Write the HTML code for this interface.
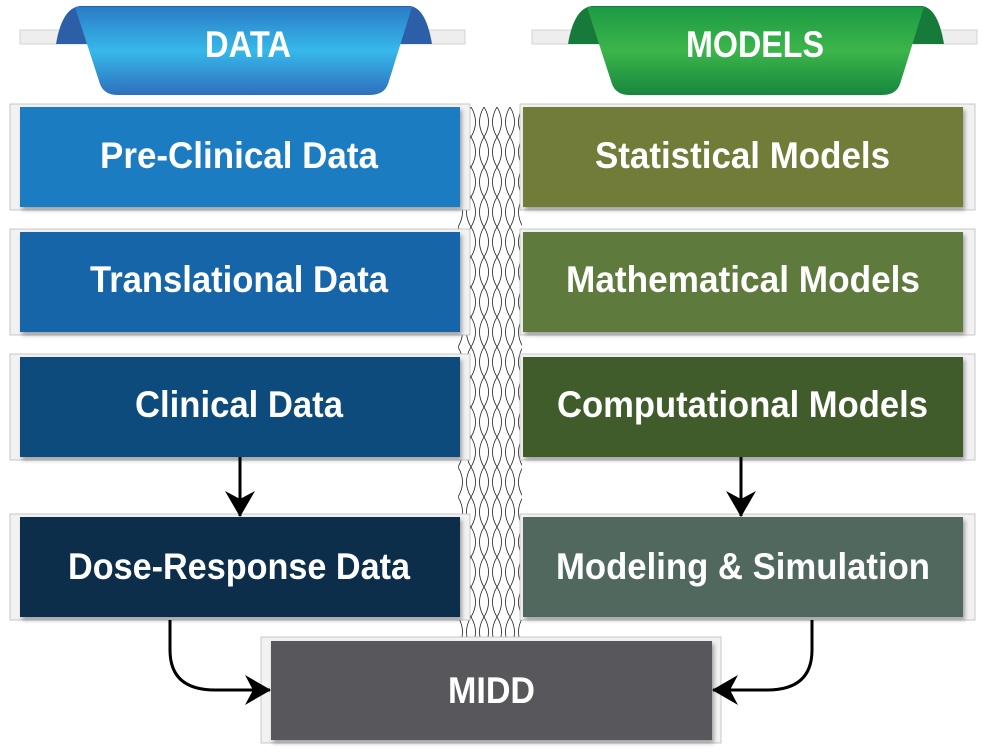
<!DOCTYPE html>
<html><head><meta charset="utf-8"><style>
html,body{margin:0;padding:0;background:#fff;}
svg{display:block}
text{font-family:"Liberation Sans Narrow","Liberation Sans",sans-serif;font-weight:bold;fill:#fff;font-size:37px}
</style></head><body>
<svg width="982" height="753" viewBox="0 0 982 753" xmlns="http://www.w3.org/2000/svg">
<defs>
<linearGradient id="gb" x1="0" y1="0" x2="0" y2="1">
<stop offset="0" stop-color="#2a7cc6"/><stop offset="0.5" stop-color="#36b8ea"/><stop offset="1" stop-color="#2f6fbd"/></linearGradient>
<linearGradient id="gg" x1="0" y1="0" x2="0" y2="1">
<stop offset="0" stop-color="#1c9a45"/><stop offset="0.5" stop-color="#3cb54a"/><stop offset="1" stop-color="#17873f"/></linearGradient>
<pattern id="mesh" x="458" y="107" width="13" height="30" patternUnits="userSpaceOnUse">
<path d="M0 0 Q9 15 0 30 M13 0 Q4 15 13 30" fill="none" stroke="#222" stroke-width="0.8"/>
</pattern>
<filter id="sh" x="-5%" y="-5%" width="110%" height="120%"><feDropShadow dx="2" dy="3" stdDeviation="2" flood-color="#000" flood-opacity="0.35"/></filter>
<marker id="ar" viewBox="0 0 26 30" refX="25" refY="15" markerWidth="26" markerHeight="30" markerUnits="userSpaceOnUse" orient="auto">
<path d="M0 0 L26 15 L0 30 L8 15 Z" fill="#000"/></marker>
</defs>

<rect x="20" y="30" width="445" height="14" fill="#eee" stroke="#ccc" stroke-width="0.8"/>
<rect x="532" y="30" width="445" height="14" fill="#eee" stroke="#ccc" stroke-width="0.8"/>
<path d="M56 44 Q62 8 80 6 L410 6 Q426 8 432 44 Z" fill="#2d5fa8"/>
<path d="M75 7 L412 7 L388 84 Q384 95 370 95 L118 95 Q104 95 100 84 Z" fill="url(#gb)"/>
<text x="205" y="57" textLength="86" lengthAdjust="spacingAndGlyphs">DATA</text>
<path d="M568 44 Q574 8 592 6 L922 6 Q938 8 944 44 Z" fill="#157a3a"/>
<path d="M587 7 L924 7 L900 84 Q896 95 882 95 L630 95 Q616 95 612 84 Z" fill="url(#gg)"/>
<text x="686" y="57" textLength="138" lengthAdjust="spacingAndGlyphs">MODELS</text>

<rect x="458" y="107" width="64" height="534" fill="url(#mesh)"/>

<g fill="#f2f2f2" stroke="#bbb" stroke-width="0.8">
<rect x="10" y="104" width="460" height="106"/>
<rect x="10" y="229" width="460" height="106"/>
<rect x="10" y="354" width="460" height="106"/>
<rect x="10" y="514" width="460" height="106"/>
<rect x="520" y="104" width="455" height="106"/>
<rect x="520" y="229" width="455" height="106"/>
<rect x="520" y="354" width="455" height="106"/>
<rect x="520" y="514" width="455" height="106"/>
<rect x="261" y="637" width="460" height="106"/>
</g>
<g filter="url(#sh)">
<rect x="20" y="107" width="440" height="100" fill="#1a7cc1"/>
<rect x="20" y="232" width="440" height="100" fill="#1765a8"/>
<rect x="20" y="357" width="440" height="100" fill="#0e4b7b"/>
<rect x="20" y="517" width="440" height="100" fill="#0b2d4c"/>
<rect x="523" y="107" width="440" height="100" fill="#6f7c37"/>
<rect x="523" y="232" width="440" height="100" fill="#5e7a3c"/>
<rect x="523" y="357" width="440" height="100" fill="#3f5b2a"/>
<rect x="523" y="517" width="440" height="100" fill="#51685f"/>
<rect x="271" y="641" width="441" height="99" fill="#58595b"/>
</g>

<text x="100" y="168" textLength="278" lengthAdjust="spacingAndGlyphs">Pre-Clinical Data</text>
<text x="90" y="292" textLength="298" lengthAdjust="spacingAndGlyphs">Translational Data</text>
<text x="135" y="417" textLength="208" lengthAdjust="spacingAndGlyphs">Clinical Data</text>
<text x="68" y="579" textLength="342" lengthAdjust="spacingAndGlyphs">Dose-Response Data</text>
<text x="595" y="168" textLength="295" lengthAdjust="spacingAndGlyphs">Statistical Models</text>
<text x="566" y="292" textLength="354" lengthAdjust="spacingAndGlyphs">Mathematical Models</text>
<text x="557" y="417" textLength="371" lengthAdjust="spacingAndGlyphs">Computational Models</text>
<text x="556" y="579" textLength="374" lengthAdjust="spacingAndGlyphs">Modeling &amp; Simulation</text>
<text x="448" y="703" textLength="87" lengthAdjust="spacingAndGlyphs">MIDD</text>

<g fill="none" stroke="#000" stroke-width="3">
<path d="M240 457 L240 516" marker-end="url(#ar)"/>
<path d="M741 457 L741 516" marker-end="url(#ar)"/>
<path d="M170 620 L170 650 Q170 690 215 690 L270 690" marker-end="url(#ar)"/>
<path d="M812 620 L812 650 Q812 690 767 690 L713 690" marker-end="url(#ar)"/>
</g>
</svg>
</body></html>
